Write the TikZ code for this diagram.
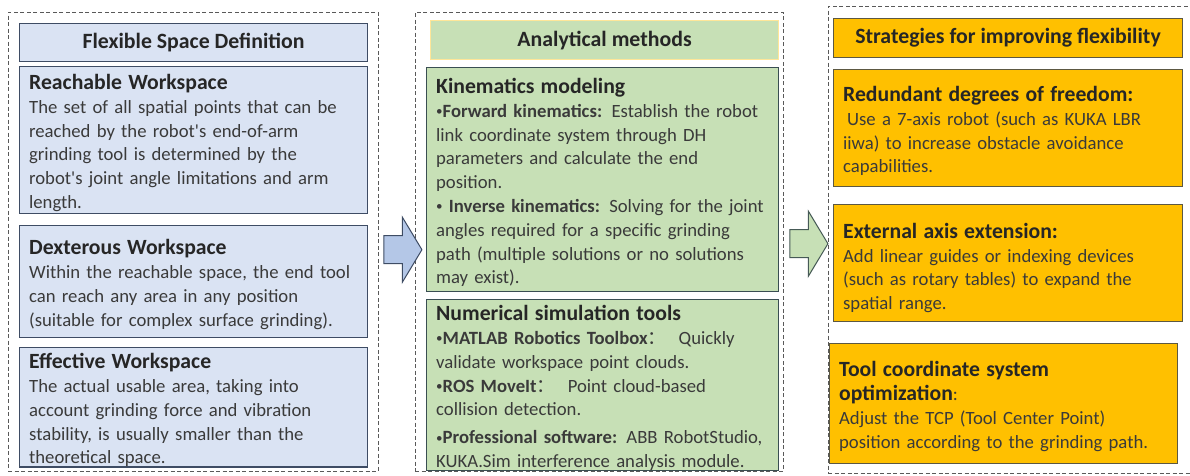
\documentclass[tikz,border=0pt]{standalone}
\usepackage{fontspec}
\setmainfont{Carlito}
\newfontfamily\cjk{Noto Sans CJK SC}
\usepackage{tikz}
\usetikzlibrary{calc,positioning,shapes.arrows}
\definecolor{bluefill}{RGB}{218,227,243}
\definecolor{blueline}{RGB}{62,76,100}
\definecolor{arrowblue}{RGB}{180,199,231}
\definecolor{greenfill}{RGB}{199,224,182}
\definecolor{greenline}{RGB}{58,78,82}
\definecolor{arrowline}{RGB}{70,90,86}
\definecolor{titleline}{RGB}{255,230,153}
\definecolor{orangefill}{RGB}{255,192,0}
\definecolor{orangeline}{RGB}{92,88,66}
\definecolor{txt}{RGB}{58,58,58}
\newcommand{\hd}[1]{{\fontsize{21.7}{24}\selectfont\bfseries\color{black!85}#1}}
\newcommand{\lift}{\rule{0pt}{21pt}}
\newcommand{\fcolon}{{\cjk ：}}
\newcommand{\ap}{\textquotesingle}
\newcommand{\bul}{\raisebox{1.5pt}{\scalebox{0.7}{•}}}

\begin{document}
\begin{tikzpicture}[x=1pt,y=-1pt,
  column/.style={draw=black!65,dashed,dash pattern=on 4pt off 2.5pt,inner sep=0,anchor=north west},
  headbox/.style={draw,line width=1.1pt,anchor=north west,inner sep=0,font=\fontsize{21.8}{24}\selectfont\bfseries,text=black!85},
  card/.style={draw,line width=1.3pt,anchor=north west,inner xsep=9.5,inner ysep=0,align=left,text=txt,font=\fontsize{18.7}{23.8}\selectfont},
  blockarrow/.style={shape=single arrow,line width=1pt,inner xsep=0,inner ysep=13.5pt,minimum height=38,minimum width=64,
    single arrow head extend=18.5pt,single arrow tip angle=118}]
\useasboundingbox (0,0) rectangle (1190,475);
% dashed frames of the three columns
\node[column,minimum width=370,minimum height=459] (colA) at (8,12) {};
\node[column,minimum width=368,minimum height=459] (colB) at (415,12) {};
\node[column,minimum width=372,minimum height=467] (colC) at (828,6) {};
% left: what the flexible space is
\node[headbox,fill=bluefill,draw=blueline,minimum width=348,minimum height=38] (defTitle) at (19,23) {Flexible Space Definition};
\node[card,fill=bluefill,draw=blueline,minimum width=348,minimum height=147,text width=329] (reach) at (19,66)
  {\lift\hd{Reachable Workspace}\\
   The set of all spatial points that can be\\
   reached by the robot\ap s end-of-arm\\
   grinding tool is determined by the\\
   robot\ap s joint angle limitations and arm\\
   length.};
\node[card,fill=bluefill,draw=blueline,minimum width=348,minimum height=112,text width=329] (dext) at (19,225)
  {\lift\hd{Dexterous Workspace}\\
   Within the reachable space, the end tool\\
   can reach any area in any position\\
   (suitable for complex surface grinding).};
\node[card,fill=bluefill,draw=blueline,minimum width=348,minimum height=118,text width=329] (eff) at (19,347)
  {\lift\hd{Effective Workspace}\\
   The actual usable area, taking into\\
   account grinding force and vibration\\
   stability, is usually smaller than the\\
   theoretical space.};
% middle: analytical methods
\node[headbox,fill=greenfill,draw=titleline,minimum width=348,minimum height=39] (anaTitle) at (430,20) {Analytical methods};
\node[card,fill=greenfill,draw=greenline,minimum width=352,minimum height=224,text width=333] (kin) at (426,67)
  {\lift\hd{Kinematics modeling}\\
   \bul\textbf{Forward kinematics:} Establish the robot\\
   link coordinate system through DH\\
   parameters and calculate the end\\
   position.\\
   \bul\ \textbf{Inverse kinematics:} Solving for the joint\\
   angles required for a specific grinding\\
   path (multiple solutions or no solutions\\
   may exist).};
\node[card,fill=greenfill,draw=greenline,minimum width=352,minimum height=168,text width=333] (num) at (426,299)
  {\lift\hd{Numerical simulation tools}\\
   \bul\textbf{MATLAB Robotics Toolbox}\fcolon\ \ Quickly\\
   validate workspace point clouds.\\
   \bul\textbf{ROS MoveIt}\fcolon\ \ Point cloud-based\\
   collision detection.\\[4pt]
   \bul\textbf{Professional software:} ABB RobotStudio,\\
   KUKA.Sim interference analysis module.};
% right: strategies
\node[headbox,fill=orangefill,draw=orangeline,minimum width=349,minimum height=39] (strTitle) at (833,18) {Strategies for improving flexibility};
\node[card,fill=orangefill,draw=orangeline,minimum width=349,minimum height=117,text width=330] (redun) at (833,69)
  {\lift\hd{Redundant degrees of freedom:}\\
   \hspace{4pt}Use a 7-axis robot (such as KUKA LBR\\
   iiwa) to increase obstacle avoidance\\
   capabilities.};
\node[card,fill=orangefill,draw=orangeline,minimum width=349,minimum height=117,text width=330] (extax) at (833,204)
  {\rule{0pt}{25pt}\hd{External axis extension:}\\
   Add linear guides or indexing devices\\
   (such as rotary tables) to expand the\\
   spatial range.};
\node[card,fill=orangefill,draw=orangeline,minimum width=348,minimum height=120,text width=329] (tcp) at (829,343)
  {\lift\hd{Tool coordinate system}\\
   \hd{optimization}:\\[1pt]
   Adjust the TCP (Tool Center Point)\\
   position according to the grinding path.};
% block arrows between the columns
\node[blockarrow,fill=arrowblue,draw=blueline] (arrAB) at ($($(colA.east)!0.5!(colB.west)$)+(2,8)$) {};
\node[blockarrow,fill=greenfill,draw=arrowline] (arrBC) at ($($(colB.east)!0.5!(colC.west)$)+(-1,3)$) {};
\end{tikzpicture}
\end{document}
